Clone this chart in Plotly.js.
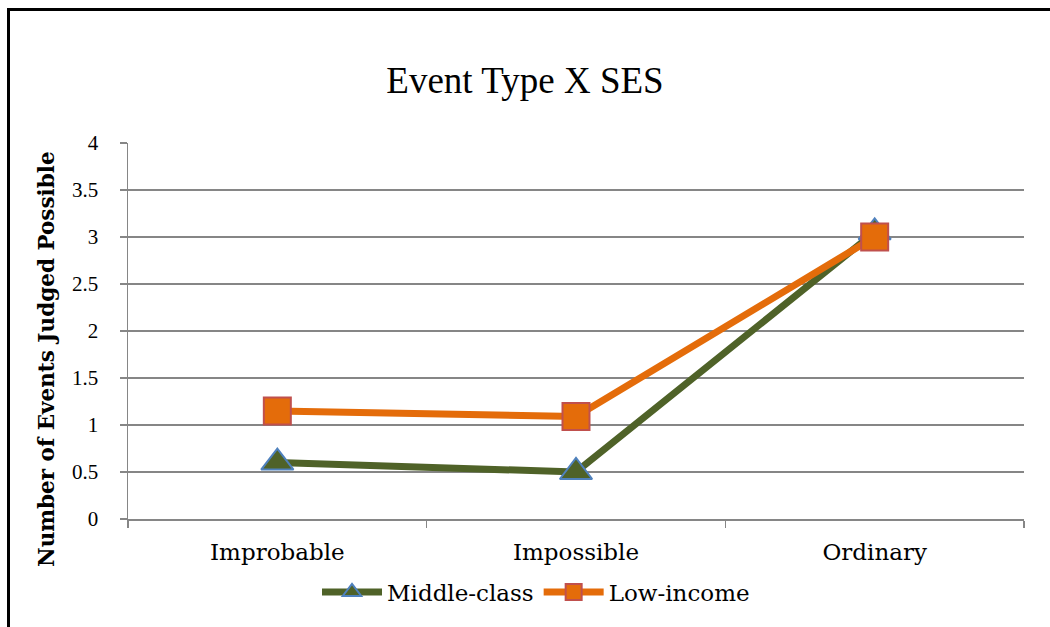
<!DOCTYPE html>
<html>
<head>
<meta charset="utf-8">
<script src="https://cdn.plot.ly/plotly-3.0.1.min.js"></script>
<style>html,body{margin:0;padding:0;background:#fff;}#chart{width:1050px;height:627px;}</style>
</head>
<body>
<div id="chart"></div>
<script>
const categories = ["Improbable", "Impossible", "Ordinary"];
const middleClass = [0.6, 0.5, 3.05];
const lowIncome = [1.15, 1.09, 3.0];
const yTickVals = [0, 0.5, 1, 1.5, 2, 2.5, 3, 3.5, 4];

const traces = [
  {
    x: categories, y: middleClass, name: "Middle-class", type: "scatter", mode: "lines+markers",
    line: {color: "#4f6228", width: 7},
    marker: {symbol: "triangle-up", size: 28, color: "#4f6228", line: {color: "#4f81bd", width: 2}}
  },
  {
    x: categories, y: lowIncome, name: "Low-income", type: "scatter", mode: "lines+markers",
    line: {color: "#e46c0a", width: 7},
    marker: {symbol: "square", size: 27, color: "#e46c0a", line: {color: "#c0504d", width: 2}}
  }
];

const L = 128, R = 26, T = 143, B = 108;
const pw = 1050 - L - R, ph = 627 - T - B;
const px = v => (v - L) / pw;
const py = v => (627 - B - v) / ph;

const layout = {
  width: 1050, height: 627,
  margin: {l: L, r: R, t: T, b: B},
  paper_bgcolor: "#ffffff", plot_bgcolor: "#ffffff",
  title: {text: "Event Type X SES", font: {family: "Liberation Serif, serif", size: 37, color: "#000"},
          x: 0.5, xref: "container", xanchor: "center", y: 1 - 80/627, yref: "container", yanchor: "middle"},
  xaxis: {
    type: "category", tickson: "boundaries", ticks: "outside", ticklen: 7, tickwidth: 1.5, tickcolor: "#868686",
    showline: true, linecolor: "#868686", linewidth: 1.5, showgrid: false, zeroline: false,
    tickfont: {family: "DejaVu Serif, serif", size: 23, color: "#000"}, ticklabelstandoff: 12,
    range: [-0.5, 2.5]
  },
  yaxis: {
    range: [0, 4], tickmode: "array", tickvals: yTickVals, ticks: "outside", ticklen: 7, tickwidth: 1.5, tickcolor: "#868686",
    showline: true, linecolor: "#868686", linewidth: 1.5, showgrid: true, gridcolor: "#868686", gridwidth: 1.3,
    zeroline: false, tickfont: {family: "Liberation Serif, serif", size: 21, color: "#000"}, ticklabelstandoff: 17
  },
  showlegend: true,
  legend: {orientation: "h", x: 536/1050, xref: "container", xanchor: "center", y: 1 - 592/627, yref: "container", yanchor: "middle",
           font: {family: "DejaVu Serif, serif", size: 23, color: "#000"}, itemwidth: 60, bgcolor: "rgba(0,0,0,0)"},
  annotations: [{
    text: "<b>Number of Events Judged Possible</b>", textangle: -90, xref: "paper", yref: "paper",
    x: px(46), y: py(359), xanchor: "center", yanchor: "middle", showarrow: false,
    font: {family: "DejaVu Serif, serif", size: 21.5, color: "#000"}
  }],
  shapes: [{
    type: "path", xref: "paper", yref: "paper",
    path: "M " + px(8.5) + "," + py(640) + " L " + px(8.5) + "," + py(9.5) + " L " + px(1060) + "," + py(9.5),
    line: {color: "#000", width: 3}
  }]
};

Plotly.newPlot("chart", traces, layout, {displayModeBar: false, staticPlot: true});
</script>
</body>
</html>
